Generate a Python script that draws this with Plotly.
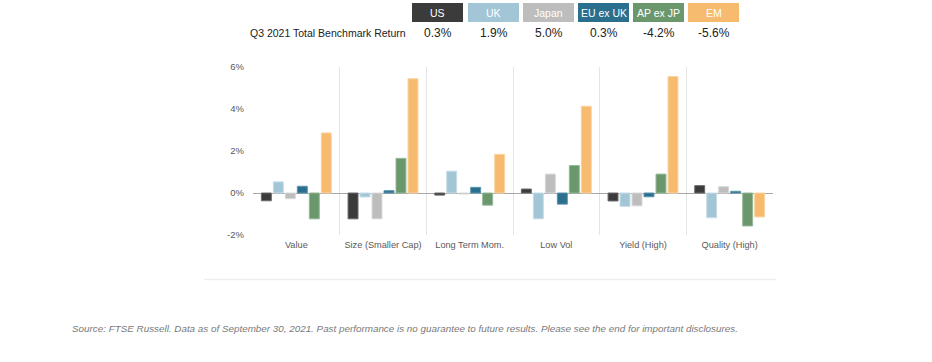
import plotly.graph_objects as go

# ---- data ----
factors = ["Value", "Size (Smaller Cap)", "Long Term Mom.", "Low Vol", "Yield (High)", "Quality (High)"]
regions = ["US", "UK", "Japan", "EU ex UK", "AP ex JP", "EM"]
benchmark_returns = ["0.3%", "1.9%", "5.0%", "0.3%", "-4.2%", "-5.6%"]

us = [-0.37, -1.23, -0.10, 0.19, -0.38, 0.35]
uk = [0.53, -0.19, 1.04, -1.23, -0.64, -1.18]
japan = [-0.27, -1.23, -0.05, 0.90, -0.61, 0.30]
eu_ex_uk = [0.32, 0.11, 0.27, -0.53, -0.18, 0.08]
ap_ex_jp = [-1.23, 1.65, -0.58, 1.31, 0.90, -1.57]
em = [2.86, 5.44, 1.84, 4.13, 5.55, -1.14]

series = [us, uk, japan, eu_ex_uk, ap_ex_jp, em]
colors = ["#3b3b3b", "#a3c6d7", "#bdbdbd", "#2b6f8e", "#6b976d", "#f7bb6f"]
edge_colors = ["#6a6a6a", "#c6dde8", "#d8d8d8", "#5a93ad", "#95b897", "#fbd3a0"]

FONT = "Liberation Sans, Arial, sans-serif"

# ---- geometry (page pixels) ----
W, H = 932, 362
L, R, T, B = 253, 773, 67, 235
pw, ph = R - L, B - T


def px(x):
    return (x - L) / pw


def py(y):
    return (B - y) / ph


fig = go.Figure()
for name, vals, c, ec in zip(regions, series, colors, edge_colors):
    fig.add_trace(go.Bar(
        x=factors, y=vals, name=name,
        marker=dict(color=c, line=dict(color=ec, width=1)),
        showlegend=False,
    ))

shapes = []
annotations = []

# header boxes and returns
box_left = [412, 468, 523, 578, 633, 688]
box_w = 51
for name, ret, c, x0 in zip(regions, benchmark_returns, colors, box_left):
    shapes.append(dict(type="rect", xref="paper", yref="paper",
                       x0=px(x0), x1=px(x0 + box_w), y0=py(22), y1=py(3),
                       fillcolor=c, line=dict(width=0), layer="above"))
    annotations.append(dict(xref="paper", yref="paper", x=px(x0 + box_w / 2), y=py(12.5),
                            text=name, showarrow=False, xanchor="center", yanchor="middle",
                            font=dict(family=FONT, size=10.5, color="white")))
    annotations.append(dict(xref="paper", yref="paper", x=px(x0 + box_w / 2), y=py(33),
                            text=ret, showarrow=False, xanchor="center", yanchor="middle",
                            font=dict(family=FONT, size=12, color="#222222")))

annotations.append(dict(xref="paper", yref="paper", x=px(408), y=py(33),
                        text="Q3 2021 Total Benchmark Return", showarrow=False,
                        xanchor="right", yanchor="middle",
                        font=dict(family=FONT, size=10.5, color="#222222")))

annotations.append(dict(xref="paper", yref="paper", x=px(70), y=py(328),
                        text="<i>Source: FTSE Russell. Data as of September 30, 2021. Past performance is no guarantee to future results. Please see the end for important disclosures.</i>",
                        showarrow=False, xanchor="left", yanchor="middle",
                        font=dict(family=FONT, size=9.85, color="#7a7a7a")))

# bottom separator line
shapes.append(dict(type="line", xref="paper", yref="paper",
                   x0=px(204), x1=px(776), y0=py(279.5), y1=py(279.5),
                   line=dict(color="#eeeeee", width=1.5)))

fig.update_layout(
    width=W, height=H,
    margin=dict(l=L, r=W - R, t=T, b=H - B, autoexpand=False),
    paper_bgcolor="white", plot_bgcolor="white",
    barmode="group", bargap=0.17, bargroupgap=0.17,
    shapes=shapes, annotations=annotations,
    font=dict(family=FONT),
    xaxis=dict(type="category", tickson="boundaries", showgrid=True,
               gridcolor="#e4e4e4", gridwidth=1, ticks="", showline=False,
               zeroline=False, tickangle=0, automargin=False, ticklabelstandoff=3,
               tickfont=dict(family=FONT, size=9.2, color="#595959")),
    yaxis=dict(range=[-2, 6], tickvals=[-2, 0, 2, 4, 6],
               ticktext=["-2%", "0%", "2%", "4%", "6%"],
               showgrid=False, zeroline=True, zerolinecolor="#a8a8a8", zerolinewidth=1.2,
               ticks="", ticklabelstandoff=8, automargin=False,
               tickfont=dict(family=FONT, size=9.5, color="#595959")),
)

fig.write_html("out.html", config={"displayModeBar": False},
               post_script="document.body.style.margin='0px';document.body.style.overflow='hidden';")
